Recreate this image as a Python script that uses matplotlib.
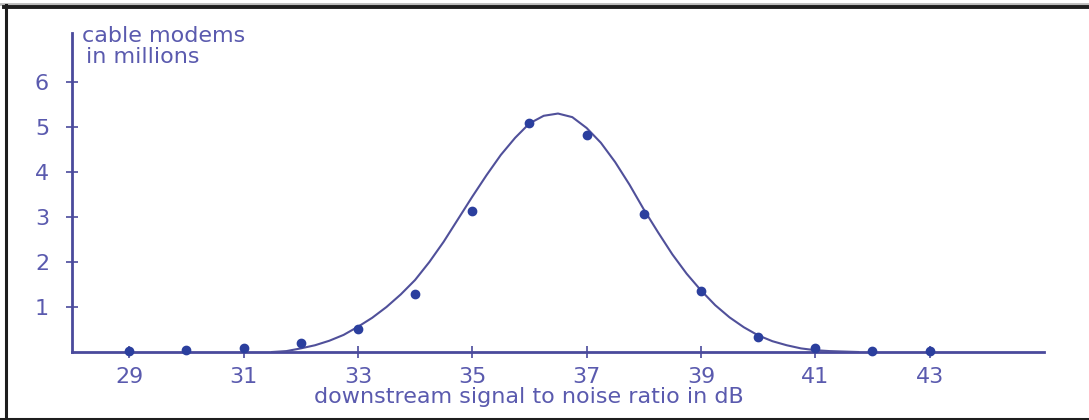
import matplotlib
matplotlib.use("Agg")
import matplotlib.pyplot as plt
from matplotlib.lines import Line2D

# measured counts (dots)
snr_db = [29, 30, 31, 32, 33, 34, 35, 36, 37, 38, 39, 40, 41, 42, 43]
modems_millions = [0.03, 0.05, 0.10, 0.21, 0.52, 1.29, 3.14, 5.10, 4.82,
                   3.07, 1.36, 0.34, 0.08, 0.03, 0.02]

# fitted curve
curve_x = [31.5, 31.75, 32.0, 32.25, 32.5, 32.75, 33.0, 33.25, 33.5, 33.75,
           34.0, 34.25, 34.5, 34.75, 35.0, 35.25, 35.5, 35.75, 36.0, 36.25,
           36.5, 36.75, 37.0, 37.25, 37.5, 37.75, 38.0, 38.25, 38.5, 38.75,
           39.0, 39.25, 39.5, 39.75, 40.0, 40.25, 40.5, 40.75, 41.0, 41.25,
           41.5, 41.75]
curve_y = [0.0, 0.02, 0.08, 0.15, 0.25, 0.38, 0.56, 0.76, 1.0, 1.28,
           1.6, 2.0, 2.45, 2.95, 3.45, 3.93, 4.38, 4.76, 5.08, 5.25,
           5.30, 5.22, 4.98, 4.65, 4.22, 3.72, 3.17, 2.66, 2.17, 1.74,
           1.37, 1.04, 0.77, 0.55, 0.37, 0.24, 0.15, 0.08, 0.04, 0.02,
           0.01, 0.0]

x_ticks = [29, 31, 33, 35, 37, 39, 41, 43]
y_ticks = [1, 2, 3, 4, 5, 6]

axis_col = "#4a4a9c"
text_col = "#5a5aae"
curve_col = "#50509a"
dot_col = "#2b3f9e"

plt.rcParams['font.family'] = ['DejaVu Sans']

fig = plt.figure(figsize=(10.89, 4.20), dpi=100)
ax = fig.add_axes([72 / 1089, 1 - 352 / 420, (1044 - 72) / 1089, (352 - 33) / 420])

ax.plot(curve_x, curve_y, color=curve_col, lw=1.5, zorder=3)
ax.plot(snr_db, modems_millions, 'o', color=dot_col, ms=6, mec=dot_col, zorder=4,
        clip_on=False)

ax.set_xlim(28, 45)
ax.set_ylim(0, 7.09)
ax.set_xticks(x_ticks)
ax.set_yticks(y_ticks)

for side in ['top', 'right']:
    ax.spines[side].set_visible(False)
for side in ['left', 'bottom']:
    ax.spines[side].set_color(axis_col)
    ax.spines[side].set_linewidth(2)

ax.tick_params(axis='both', direction='inout', length=9, width=1.2,
               color=axis_col, labelcolor=text_col, labelsize=16)
ax.tick_params(axis='x', pad=6)
ax.tick_params(axis='y', pad=12)

fig.text(82 / 1089, 1 - 42 / 420, "cable modems", color=text_col,
         fontsize=16, ha='left', va='baseline')
fig.text(86 / 1089, 1 - 63 / 420, "in millions", color=text_col,
         fontsize=16, ha='left', va='baseline')
fig.text(529 / 1089, 1 - 403 / 420, "downstream signal to noise ratio in dB",
         color=text_col, fontsize=16, ha='center', va='baseline')

# picture frame
fig.add_artist(Line2D([0, 1], [1 - 3.5 / 420] * 2, color="#bbbbbb", lw=2,
                      transform=fig.transFigure))
fig.add_artist(Line2D([4 / 1089, 1], [1 - 6.5 / 420] * 2, color="#1e1e1e", lw=2.8,
                      transform=fig.transFigure))
fig.add_artist(Line2D([5.5 / 1089] * 2, [0, 1 - 5 / 420], color="#1e1e1e", lw=2.2,
                      transform=fig.transFigure))
fig.add_artist(Line2D([0, 1], [1 - 418.5 / 420] * 2, color="#1e1e1e", lw=2.2,
                      transform=fig.transFigure))

fig.savefig("out.png", dpi=100)
